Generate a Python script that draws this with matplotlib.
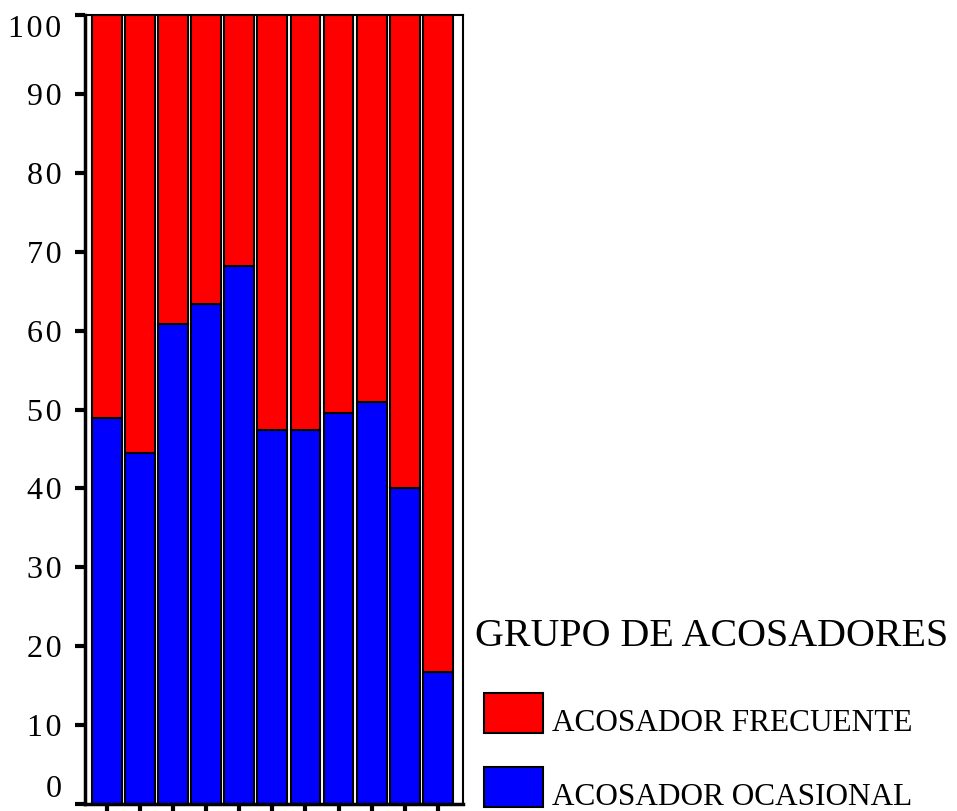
import matplotlib.pyplot as plt
from matplotlib.patches import Rectangle
import numpy as np

plt.rcParams['font.family'] = ['Liberation Serif', 'DejaVu Serif']

# percentages per group (11 groups, no labels in the picture)
ocasional = [48.9, 44.5, 60.8, 63.4, 68.2, 47.4, 47.4, 49.6, 50.9, 40.0, 16.7]
frecuente = [100 - v for v in ocasional]
labels = ['ACOSADOR FRECUENTE', 'ACOSADOR OCASIONAL']
colors = ['#ff0000', '#0000ff']
legend_title = 'GRUPO DE ACOSADORES'
yticks = list(range(0, 101, 10))

W, H = 957, 811
fig = plt.figure(figsize=(W / 100, H / 100), dpi=100)
ax = fig.add_axes([85 / W, (H - 804) / H, 378 / W, (804 - 15) / H])

x = np.arange(len(ocasional))
ax.bar(x, ocasional, width=0.9, color=colors[1], edgecolor='black', linewidth=1.5)
ax.bar(x, frecuente, bottom=ocasional, width=0.9, color=colors[0],
       edgecolor='black', linewidth=1.5)

ax.set_xlim(-0.66, 10.76)
ax.set_ylim(0, 100)
ax.set_yticks(yticks)
# digits are drawn letter-spaced in the original
ax.set_yticklabels(['\u200a'.join(str(v)) for v in yticks], fontsize=23)
ax.set_xticks(x)
ax.set_xticklabels([])
ax.tick_params(axis='y', direction='out', length=7, width=3, pad=10)
ax.tick_params(axis='x', direction='out', length=7, width=3)
tl = ax.get_yticklabels()
tl[0].set_verticalalignment('bottom')
tl[-1].set_verticalalignment('top')
for s in ['top', 'right']:
    ax.spines[s].set_linewidth(1.5)
for s in ['left', 'bottom']:
    ax.spines[s].set_linewidth(2.5)

# legend drawn by hand to the right of the axes
fig.text(475 / W, (H - 637) / H, legend_title, fontsize=28.8, va='center', ha='left')
for i, (lab, col) in enumerate(zip(labels, colors)):
    y0 = 693 + i * 74
    fig.add_artist(Rectangle((484 / W, (H - y0 - 40) / H), 59 / W, 40 / H,
                             facecolor=col, edgecolor='black', linewidth=1.5,
                             transform=fig.transFigure))
    fig.text(552 / W, (H - y0 - 38) / H, lab, fontsize=22.5, va='baseline', ha='left')

fig.savefig('out.png', dpi=100)
